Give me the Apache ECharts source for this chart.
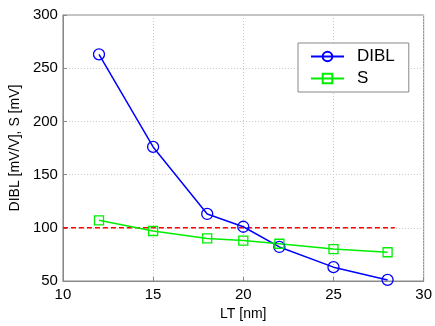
<!DOCTYPE html>
<html>
<head>
<meta charset="utf-8">
<script src="https://cdn.jsdelivr.net/npm/echarts@6/dist/echarts.min.js"></script>
<style>
  html, body {margin: 0; padding: 0; background: #fff;}
  #chart {width: 435px; height: 326px;}
</style>
</head>
<body>
<div id="chart"></div>
<script>
const lt = [12, 15, 18, 20, 22, 25, 28];
const dibl = [263, 176, 113, 101, 82, 63, 51];
const sVals = [107, 97, 90, 88, 85, 80, 77];
const refX = [10, 28.4];
const refY = [100, 100];

const font = 'Liberation Sans, Arial, sans-serif';
const chart = echarts.init(document.getElementById('chart'));

chart.setOption({
    animation: false,
    backgroundColor: '#fff',
    textStyle: {fontFamily: font},
    grid: {
        left: 59, right: 8, top: 15, bottom: 38,
        show: true, borderColor: '#888', borderWidth: 1
    },
    legend: {
        data: ['DIBL', 'S'],
        orient: 'vertical',
        left: 298, top: 43,
        padding: [5, 14, 5, 12],
        itemGap: 5,
        itemWidth: 33, itemHeight: 12,
        backgroundColor: '#fff',
        borderColor: '#888', borderWidth: 1,
        textStyle: {fontSize: 17, color: '#000', fontFamily: font, padding: [0, 0, 0, 8]}
    },
    xAxis: {
        type: 'value', min: 10, max: 30, interval: 5,
        name: 'LT [nm]', nameLocation: 'middle', nameGap: 26,
        nameTextStyle: {fontSize: 14, color: '#000'},
        axisLine: {lineStyle: {color: '#888'}},
        axisTick: {inside: true, length: 4, lineStyle: {color: '#888'}},
        axisLabel: {fontSize: 15, color: '#000', margin: 6},
        splitLine: {lineStyle: {color: '#c8c8c8', type: [1, 2]}}
    },
    yAxis: {
        type: 'value', min: 50, max: 300, interval: 50,
        name: 'DIBL [mV/V], S [mV]', nameLocation: 'middle', nameGap: 38,
        nameTextStyle: {fontSize: 14, color: '#000'},
        axisLine: {show: true, lineStyle: {color: '#888'}},
        axisTick: {show: true, inside: true, length: 4, lineStyle: {color: '#888'}},
        axisLabel: {fontSize: 15, color: '#000', margin: 5},
        splitLine: {lineStyle: {color: '#c8c8c8', type: [1, 2]}}
    },
    series: [
        {
            name: 'ref', type: 'line',
            data: refX.map((x, i) => [x, refY[i]]),
            symbol: 'none', silent: true,
            lineStyle: {color: '#ff0000', width: 1.5, type: [5, 3]}
        },
        {
            name: 'DIBL', type: 'line',
            data: lt.map((x, i) => [x, dibl[i]]),
            symbol: 'circle', symbolSize: 11,
            itemStyle: {color: 'rgba(255,255,255,0)', borderColor: '#0000ff', borderWidth: 1.3},
            lineStyle: {color: '#0000ff', width: 1.5}
        },
        {
            name: 'S', type: 'line',
            data: lt.map((x, i) => [x, sVals[i]]),
            symbol: 'rect', symbolSize: 9,
            itemStyle: {color: 'rgba(255,255,255,0)', borderColor: '#00ee00', borderWidth: 1.3},
            lineStyle: {color: '#00ee00', width: 1.5}
        }
    ]
});
</script>
</body>
</html>
